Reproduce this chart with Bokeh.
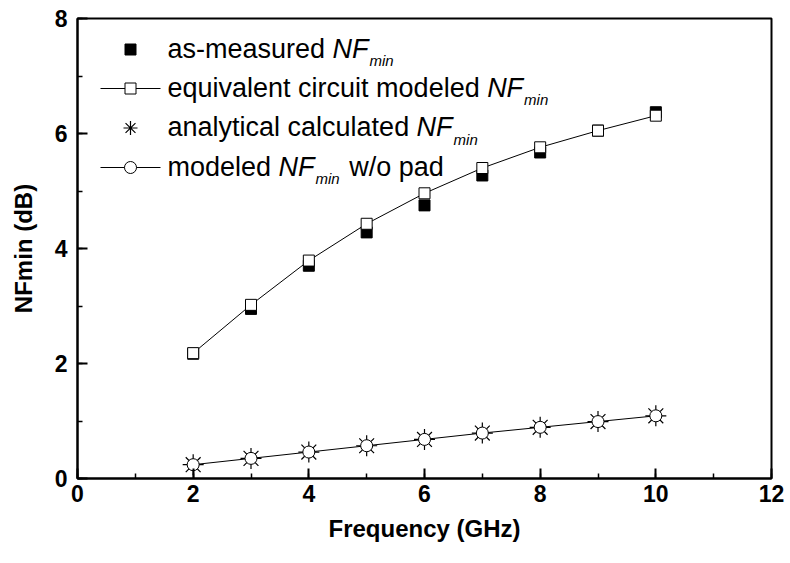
from bokeh.plotting import figure
from bokeh.models import SingleIntervalTicker, Label, ColumnDataSource
from bokeh.embed import file_html
from bokeh.resources import INLINE

# ---- data ----
freq_ghz = [2, 3, 4, 5, 6, 7, 8, 9, 10]
nf_measured = [2.17, 2.95, 3.70, 4.28, 4.75, 5.27, 5.67, 6.05, 6.37]
nf_modeled = [2.18, 3.02, 3.79, 4.43, 4.96, 5.40, 5.76, 6.05, 6.31]
nf_analytical = [0.24, 0.35, 0.46, 0.57, 0.68, 0.79, 0.89, 0.99, 1.09]
nf_no_pad = [0.24, 0.35, 0.46, 0.57, 0.68, 0.79, 0.89, 0.99, 1.09]

x_ticks_interval = 2
y_ticks_interval = 2

legend_rows = [
    ("as-measured", ""),
    ("equivalent circuit modeled", ""),
    ("analytical calculated", ""),
    ("modeled", "w/o pad"),
]

W, H = 790, 563
BL, BR, BT, BB = 77, 19, 18, 85
FONT = "Liberation Sans"

p = figure(width=W, height=H, x_range=(0, 12), y_range=(0, 8),
           output_backend="svg", toolbar_location=None,
           min_border_left=BL, min_border_right=BR, min_border_top=BT, min_border_bottom=BB)
p.xgrid.visible = False
p.ygrid.visible = False
p.outline_line_color = "black"
p.outline_line_width = 2
p.background_fill_color = "white"
p.border_fill_color = "white"

p.xaxis.ticker = SingleIntervalTicker(interval=x_ticks_interval, num_minor_ticks=2)
p.yaxis.ticker = SingleIntervalTicker(interval=y_ticks_interval, num_minor_ticks=2)
for ax in (p.xaxis[0], p.yaxis[0]):
    ax.axis_line_width = 2
    ax.axis_line_color = "black"
    ax.major_tick_in = 10
    ax.major_tick_out = 0
    ax.minor_tick_in = 5
    ax.minor_tick_out = 0
    ax.major_tick_line_width = 2
    ax.minor_tick_line_width = 1.5
    ax.major_label_text_font = FONT
    ax.major_label_text_font_style = "bold"
    ax.major_label_text_font_size = "23px"
    ax.major_label_text_color = "black"
    ax.axis_label_text_font = FONT
    ax.axis_label_text_font_style = "bold"
    ax.axis_label_text_font_size = "24px"
    ax.axis_label_text_color = "black"
p.xaxis.axis_label = "Frequency (GHz)"
p.yaxis.axis_label = "NFmin (dB)"
p.xaxis.major_label_standoff = 6
p.yaxis.major_label_standoff = 10
p.xaxis.axis_label_standoff = 10
p.yaxis.axis_label_standoff = 15

src = ColumnDataSource(dict(f=freq_ghz, meas=nf_measured, mod=nf_modeled,
                            ana=nf_analytical, nop=nf_no_pad))

p.scatter("f", "meas", source=src, marker="square", size=11,
          fill_color="black", line_color="black")
p.line("f", "mod", source=src, line_color="black", line_width=1)
p.scatter("f", "mod", source=src, marker="square", size=11,
          fill_color="white", line_color="black", line_width=1)
p.scatter("f", "ana", source=src, marker="asterisk", size=21,
          line_color="black", line_width=1.2)
p.line("f", "nop", source=src, line_color="black", line_width=1)
p.scatter("f", "nop", source=src, marker="circle", size=12,
          fill_color="white", line_color="black", line_width=1)

# ---- hand-made legend (italic NF with subscript "min") ----
fw = W - BL - BR
fh = H - BT - BB
sx = 12 / fw
sy = 8 / fh

def dx(px):
    return (px - BL) * sx

def dy(py):
    return (H - BB - py) * sy

ARIAL = {' ': 278, 'a': 556, 's': 500, '-': 333, 'm': 833, 'e': 556, 'u': 556,
         'r': 333, 'd': 556, 'q': 556, 'i': 222, 'v': 500, 'l': 222, 'n': 556,
         't': 278, 'c': 500, 'o': 556, 'y': 500, 'w': 722, '/': 278, 'p': 556,
         'N': 722, 'F': 611}

def tw(s, size):
    return sum(ARIAL.get(ch, 556) for ch in s) * size / 1000.0

MAIN = 27
SUB = 15
text_x = 167
centers = [49, 88, 127.5, 167]
text_shift = -1   # baseline relative to marker centre, tuned to the render
mark_x = 130

for (pre, post), c in zip(legend_rows, centers):
    bl = c + text_shift
    x = text_x
    p.add_layout(Label(x=dx(x), y=dy(bl), text=pre, text_font=FONT,
                       text_font_size=f"{MAIN}px", text_baseline="middle",
                       text_align="left", text_color="black"))
    x += tw(pre + " ", MAIN)
    p.add_layout(Label(x=dx(x), y=dy(bl), text="NF", text_font=FONT,
                       text_font_style="italic", text_font_size=f"{MAIN}px",
                       text_baseline="middle", text_align="left", text_color="black"))
    x += tw("NF", MAIN) + 1
    p.add_layout(Label(x=dx(x), y=dy(bl + 12), text="min", text_font=FONT,
                       text_font_style="italic", text_font_size=f"{SUB}px",
                       text_baseline="middle", text_align="left", text_color="black"))
    x += tw("min", SUB)
    if post:
        x += tw(" ", MAIN) + 2
        p.add_layout(Label(x=dx(x), y=dy(bl), text=post, text_font=FONT,
                           text_font_size=f"{MAIN}px", text_baseline="middle",
                           text_align="left", text_color="black"))

cy = [dy(c) for c in centers]
p.segment(x0=[dx(100), dx(100)], y0=[cy[1], cy[3]], x1=[dx(160), dx(160)],
          y1=[cy[1], cy[3]], line_color="black", line_width=1)
p.scatter([dx(mark_x)], [cy[0]], marker="square", size=11, fill_color="black", line_color="black")
p.scatter([dx(mark_x)], [cy[1]], marker="square", size=11, fill_color="white", line_color="black")
p.scatter([dx(mark_x)], [cy[2]], marker="asterisk", size=14, line_color="black", line_width=1.2)
p.scatter([dx(mark_x)], [cy[3]], marker="circle", size=12, fill_color="white", line_color="black")

open("out.html", "w").write(file_html(p, INLINE))
